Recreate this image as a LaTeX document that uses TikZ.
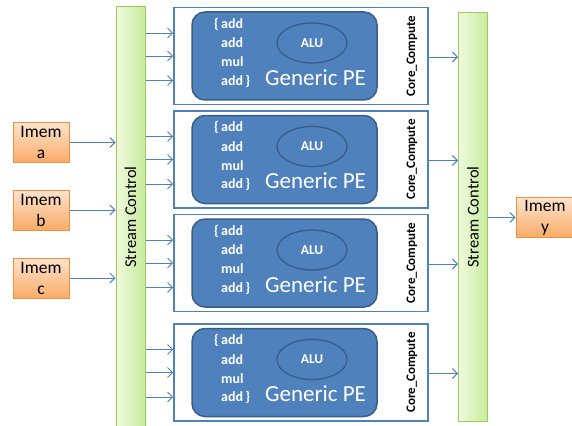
\documentclass[tikz,border=0pt]{standalone}
\usepackage{fontspec}
\setmainfont{Carlito}
\usetikzlibrary{arrows.meta,shapes.geometric}
\definecolor{peblue}{HTML}{4F81BD}
\definecolor{pedark}{HTML}{385D8A}
\definecolor{barlight}{HTML}{F0FADF}
\definecolor{bargreen}{HTML}{C6EC9A}
\definecolor{baredge}{HTML}{9BCB5B}
\definecolor{memlight}{HTML}{FDE3CC}
\definecolor{memdark}{HTML}{F9AC68}
\definecolor{memedge}{HTML}{F0903E}
\begin{document}
\begin{tikzpicture}[x=1pt,y=-1pt,
    arr/.style={peblue,line width=0.9pt,-{Straight Barb[length=5pt,width=10pt]}},
    bar/.style={draw=baredge,line width=1pt,left color=barlight,right color=bargreen,minimum width=29pt,inner sep=0pt},
    lbl/.style={font=\fontsize{16.5}{16.5}\selectfont,rotate=90,inner sep=0pt},
    imem/.style={draw=memedge,line width=1pt,top color=memlight,bottom color=memdark,minimum width=56pt,minimum height=40pt,align=center,inner sep=0pt,font=\fontsize{17.5}{21}\selectfont},
    pebox/.style={draw=peblue,line width=1.6pt,fill=white,minimum width=254pt,minimum height=97pt,inner sep=0pt},
    pecore/.style={draw=pedark,line width=1.5pt,fill=peblue,rounded corners=13pt,minimum width=185pt,minimum height=88pt,inner sep=0pt},
    alu/.style={draw=pedark,line width=1.3pt,ellipse,minimum width=70pt,minimum height=40pt,inner sep=0pt,text=white,font=\fontsize{13.5}{13.5}\selectfont\bfseries},
    instr/.style={text=white,anchor=west,inner sep=0pt,font=\fontsize{14}{14}\selectfont\bfseries},
    gen/.style={text=white,anchor=base,inner sep=0pt,font=\fontsize{23}{23}\selectfont},
    core/.style={rotate=90,inner sep=0pt,font=\fontsize{13}{13}\selectfont\bfseries}]
  \useasboundingbox (0,0) rectangle (572,425);
  % шины
  \node[bar,minimum height=423pt] (lbar) at (130.5,218.5) {};
  \node[lbl] (ltxt) at (130.5,217) {Stream Control};
  \node[bar,minimum height=408pt] (rbar) at (473,217) {};
  \node[lbl] (rtxt) at (473,217) {Stream Control};
  % память
  \node[imem] (ima) at (41,142.5) {Imem\\a};
  \node[imem] (imb) at (41,210) {Imem\\b};
  \node[imem] (imc) at (41,278) {Imem\\c};
  \node[imem,minimum width=58pt] (imy) at (545,217.5) {Imem\\y};
  \foreach \m in {ima,imb,imc}
    \draw[arr] (\m.east) -- (\m.east -| lbar.west);
  \draw[arr] (rbar.east |- imy.west) -- (imy.west);
  % ядра
  \foreach \i/\y in {1/56,2/159.5,3/263,4/372.5}{
    \node[pebox] (box\i) at (301,\y) {};
    \node[pecore] (pe\i) at (284.5,\y) {};
    \node[alu] (alu\i) at (312,\y-13) {ALU};
    \node[gen] (gen\i) at (315.5,\y+29) {Generic PE};
    \node[instr] (opa\i) at (221,\y-32) {\llap{\{\,}add};
    \node[instr] (opb\i) at (221,\y-13) {add};
    \node[instr] (opc\i) at (221,\y+6) {mul};
    \node[instr] (opd\i) at (221,\y+25) {add\,\}};
    \node[core] (cc\i) at (412,\y) {Core\_Compute};
    \foreach \d in {-23,0,24.5}{
      \coordinate (in\i) at (0,\y+\d);
      \draw[arr] (lbar.east |- in\i) -- (box\i.west |- in\i);
    }
    \coordinate (out\i) at (0,\y+1);
    \draw[arr] (box\i.east |- out\i) -- (rbar.west |- out\i);
  }
\end{tikzpicture}
\end{document}
